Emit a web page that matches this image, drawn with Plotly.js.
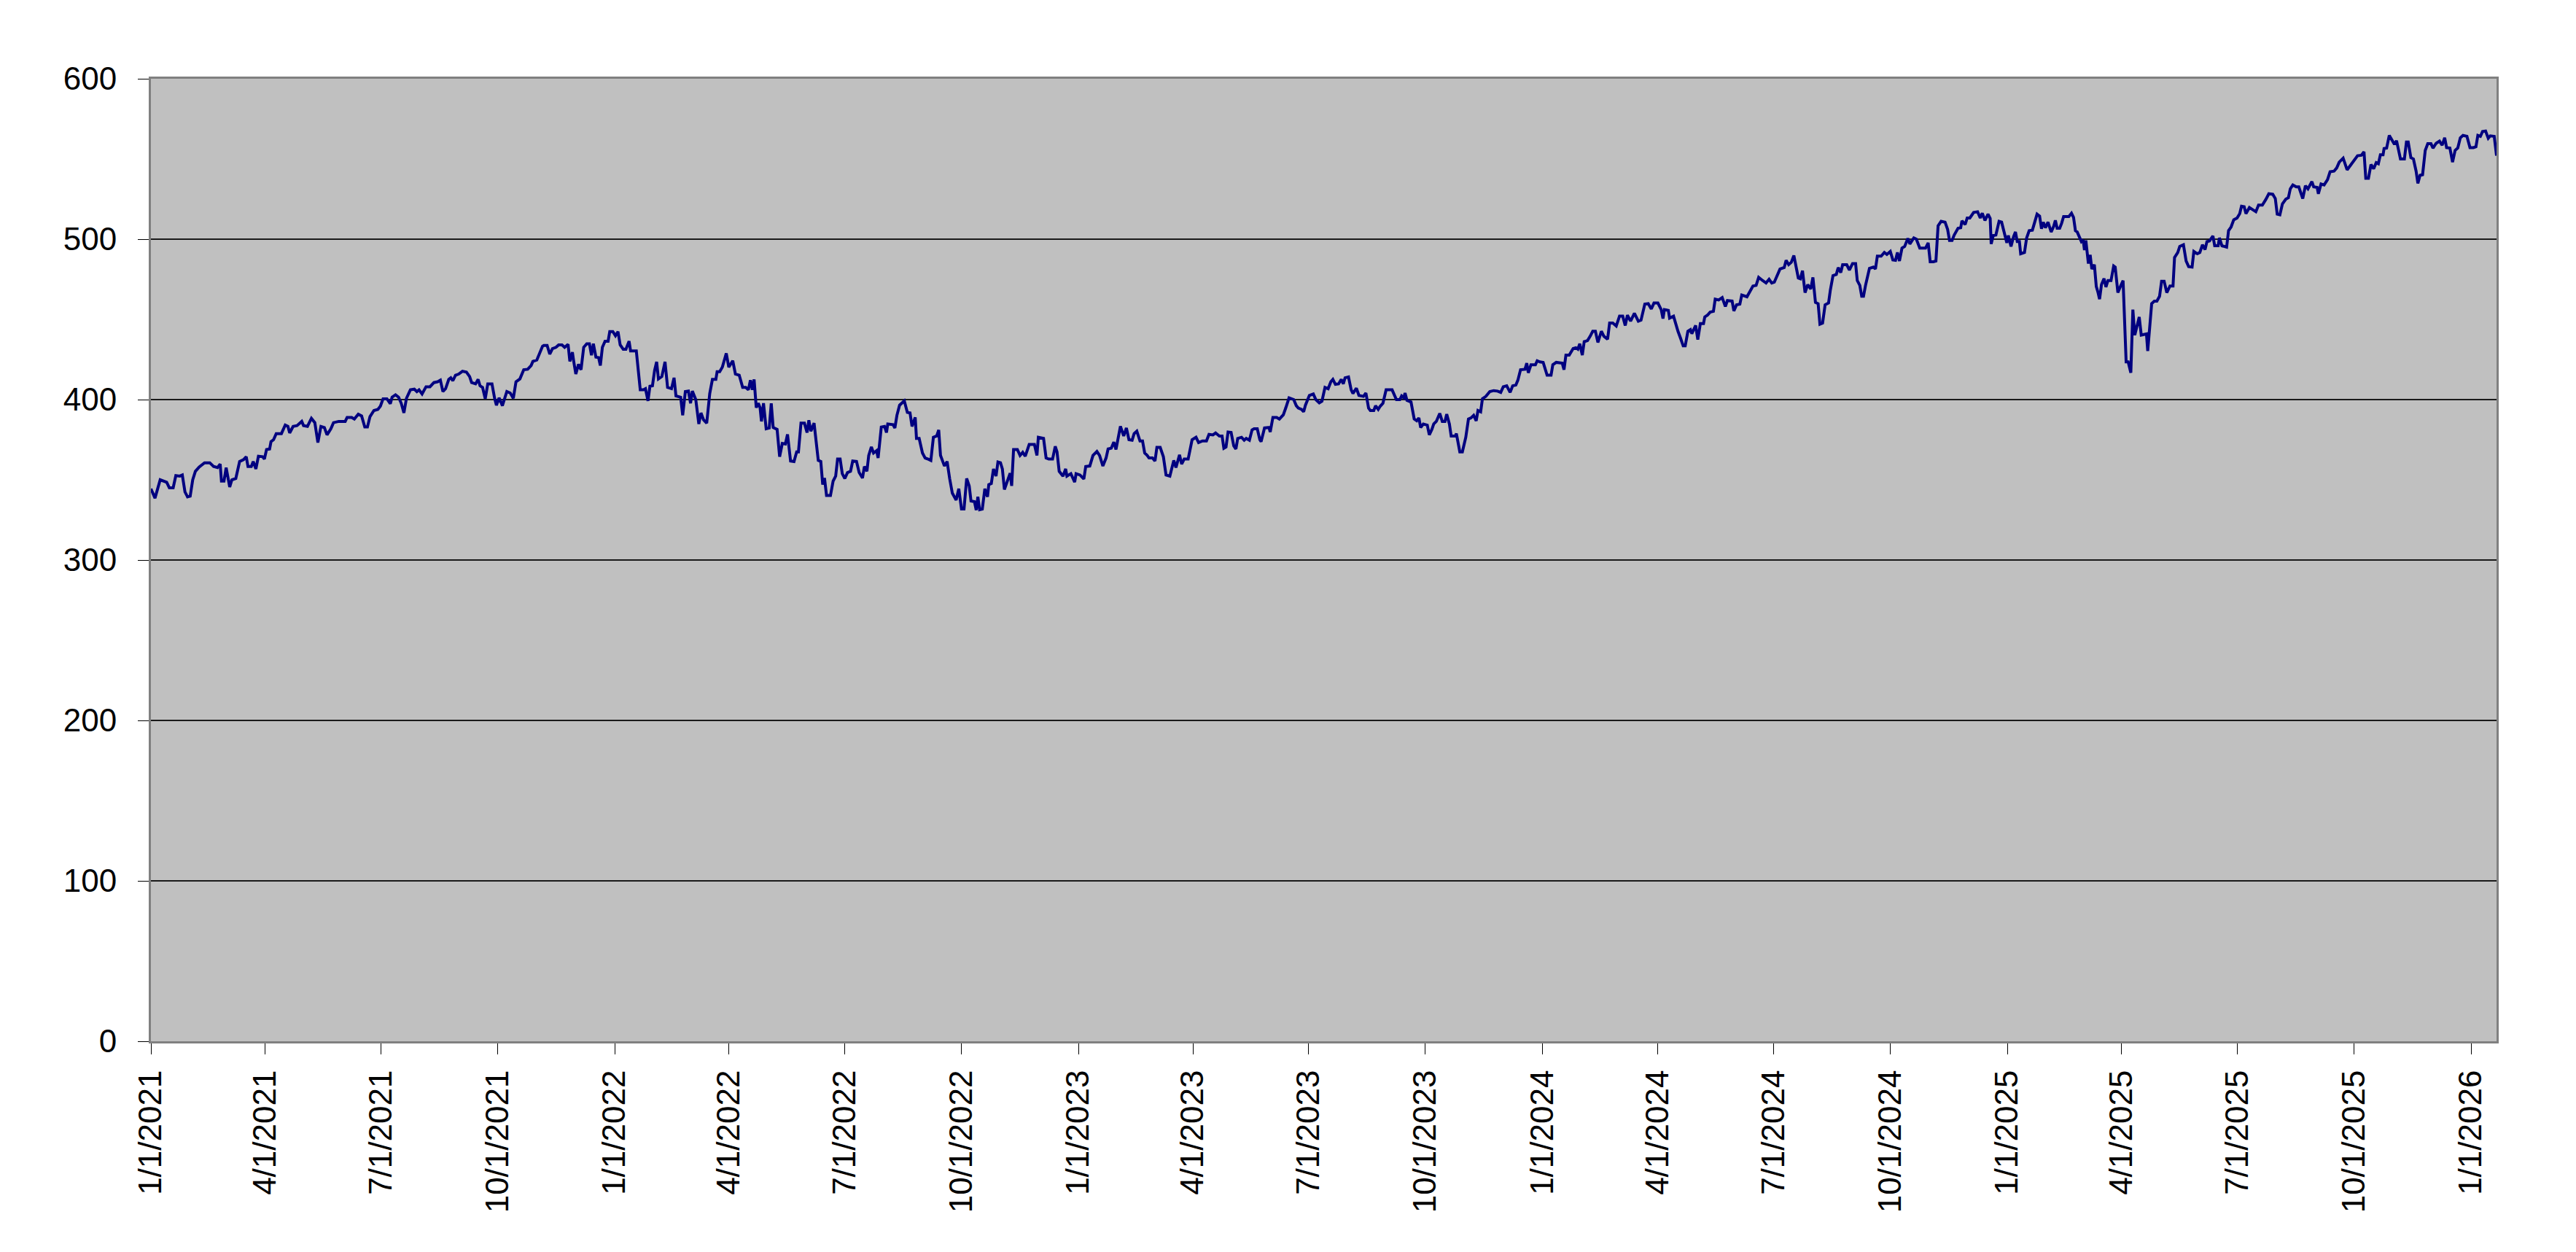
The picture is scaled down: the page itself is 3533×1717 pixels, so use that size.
<!DOCTYPE html>
<html>
<head>
<meta charset="utf-8">
<script src="https://cdn.plot.ly/plotly-3.0.1.min.js"></script>
<style>
  html, body { margin: 0; padding: 0; background: #ffffff; }
  #chart { width: 3533px; height: 1717px; }
</style>
</head>
<body>
<div id="chart"></div>
<script>
// Daily closes. Days counted from 1/1/2021.
const startDate = '2021-01-01';
const dayOffsets = [
  0, 3.2, 7.3, 10.4, 12.4, 14.5, 17.5, 19.6, 22.7, 24.7, 26.8, 28.8, 30.9, 32.9, 35, 38, 42.2, 46.3, 49.3, 52.4,
  54.5, 55.5, 57.5, 59.2, 62, 63.7, 66.8, 69.8, 72.9, 75, 76.4, 79, 80.5, 82.6, 84.6, 87.9, 89.3, 91, 93.4, 94.5,
  96.5, 98.6, 102.7, 105.7, 107.8, 109.2, 111.9, 115, 118.7, 120.1, 123.2, 126.3, 129, 131.4, 133.8, 136.5, 138.6, 141.6, 143.7, 147.8,
  152.9, 154.4, 158, 160.1, 163.2, 165.8, 168.3, 170.4, 172.4, 175.5, 178.6, 180.6, 182.7, 185.7, 188.4, 189.8, 192.5, 194.9, 197, 199.1,
  201.1, 204.2, 207.3, 209.3, 211, 213.4, 216.5, 219.6, 222.7, 225.7, 227.8, 229.8, 231.9, 234.4, 236, 237.6, 239.7, 242.2, 245.2, 248.3,
  250.8, 252.4, 255.5, 257.5, 259, 261, 263.1, 265.1, 268.4, 270.5, 271.9, 274, 276.6, 280.1, 282.8, 285.2, 287.3, 290.4, 293.4, 296.5,
  299.2, 300.6, 303.7,
  308.2, 309.2, 311.8, 313.9, 316, 318.8, 320.9, 323.5, 325.6, 328.3, 329.7, 331.7, 332.8, 334.4, 336.5, 338.5, 340.6, 343, 345.1, 346.7,
  348.2, 350.2, 352.3, 353.7, 355.3, 357.4, 359.8, 361.1, 363.5, 365.6, 367.6, 369.3, 371.7, 373.8, 376.3, 377.5, 382, 385.1, 387.7, 389.2,
  391.2, 392.7, 394.7, 396.4, 398, 399.4, 402.1, 404.6, 406.6, 409.7, 411.7, 413.2, 416.9, 418.5, 420.6, 423, 424.7, 426.1, 428.8, 431.2,
  432.9, 434.9, 437.4, 439.8, 441.9, 444.6, 445.6, 447.6, 449.7, 452.8, 454.8, 457.9, 460, 463, 465.7, 468.1, 470.2, 471.8, 473.3, 474.7,
  476.4, 478, 479.4, 480.5, 482.1, 484.2, 486.6, 488.2, 489.7, 492.8, 494.8, 496.9, 499.3, 501, 503.4, 506.1, 508.2, 509.6, 511.6, 514.3,
  516.4, 517.8, 519.4, 521.9, 525.2, 527.2, 528.7, 530.1, 531.7, 534.8, 536.9, 538.9, 540.4, 542.4, 544.1, 546.1, 548.2, 550.6, 552.3, 555.3,
  557.4, 560, 561.5, 563.5, 564.9, 567, 568.7, 571.1, 572.3, 574.8, 577.3, 578.9, 579.9, 584, 585.5, 587.1, 589.2, 592.9, 595.3, 597.4,
  599, 601.5, 602.5, 604.6, 607.2, 609.3, 611.7, 613.8, 615.8,
  618.4, 620, 621.4, 624.5, 626.6, 628.6, 630.7, 633.7, 635.8, 637.9, 639.9, 642, 644, 645.4, 648.1, 649.5, 650.8, 652.2, 654.3, 656.3,
  658.4, 659.4, 661.4, 663.1, 665.1, 666.6, 668.6, 670.1, 671.7, 673.7, 676.2, 677.4, 678.9, 681.9, 684, 686.1, 688.1, 691.2, 695.3, 697.3,
  698.4, 702.5, 704.5, 706.6, 709.6, 711.7, 713.1, 714.8, 717.8, 719.9, 720.9, 724, 727, 728.1, 731.2, 734.2, 735.7, 738.9, 741.4, 744.5,
  746.6, 749.2, 751.7, 753.3, 755.8, 757.8, 759.5, 763, 765.6, 767.7, 769.7, 772.2, 773.8, 775.9, 778.4, 780.4, 782.1, 784.1, 785.5, 788.2,
  790.2, 791.7, 794.3, 796.8, 798.9, 801.9, 803.4, 805, 806.7, 809.5, 811.2, 813.2, 816.3, 819.4, 822.5, 824.5, 827.6, 830.7, 832.7, 835.8,
  837.9, 840.9, 843, 844.4, 846.1, 847.7, 850.1, 852.2, 853.9, 855.3, 858.3, 860.4, 862, 864.5, 866.6, 868.2, 870.7, 872.7, 873.7, 876.4,
  879.9, 880.9, 883, 886, 888.1, 891.2, 893.2, 895.7, 899.4, 901.4, 903, 905.5, 907.2, 908.6, 911.7, 914.8, 916.8, 919.5, 921.6, 924,
  926.5, 928.6, 930.2, 932.2, 934.7, 936.8, 938.4, 939.8, 942.5, 944.6, 946, 948.7, 950.7, 954.2, 956.2, 958.3, 959.7, 962.4, 963.8, 965.9,
  967.5, 969.6, 972.1, 976.8, 980.2, 982.9, 984.3, 986, 987, 988.5, 991.7, 994.2, 996.2, 997.9, 999.3, 1001.4, 1004.5, 1006.1, 1008.1, 1009.6,
  1011.6, 1014.3, 1016.3, 1018.4, 1019.8, 1021.9, 1023.3, 1026.6, 1027.4, 1030.1, 1032.1, 1034.8, 1036.9, 1038.9, 1041, 1043, 1044.4, 1046.5, 1047.9, 1050.6,
  1053.7, 1056.8, 1059.8, 1062.3, 1064.3, 1067, 1069.7, 1071.7, 1074.2, 1075.8, 1077.9, 1081.4, 1082.8, 1084, 1086.1, 1089.6, 1091, 1093.1, 1095.7, 1098.8,
  1101.9, 1103.3, 1106, 1110.7, 1112.1, 1113.6, 1116.2, 1119.3, 1121.4, 1123, 1124.5, 1126.5, 1128, 1130.6, 1132.7, 1134.7, 1136.8, 1138.8, 1141.5, 1143.5,
  1146.4, 1148, 1150.5, 1153.2, 1155.8, 1158.3, 1160.3, 1162, 1164.5, 1167.5, 1170.6, 1172.7, 1175.7, 1178.4, 1180.8, 1182.9, 1186, 1188.6, 1190, 1191.1,
  1194.2, 1195.2, 1198.3, 1199.7, 1201.8, 1203.8, 1205.9, 1207.5, 1209.6, 1211.6, 1212.7, 1215.7, 1217.4, 1219.4, 1221.9, 1222.9, 1225, 1227.1, 1229.7, 1231.1,
  1233.8,
  1236.6, 1239.1, 1240.7, 1244.4, 1245.8, 1247.9, 1250.5, 1252, 1256.1, 1258.8, 1260.8, 1263.3, 1265.3, 1268.4, 1271.1, 1273.5, 1275.6, 1277.6, 1279.7, 1282.1,
  1285.4, 1286.9, 1288.9, 1291, 1293, 1294.5, 1296.5, 1298.1, 1299.8, 1301.8, 1303.9, 1306.3, 1308, 1310, 1312.1, 1313.5, 1315.6, 1317.6, 1320.3, 1321.7,
  1323.8, 1326.4, 1327.9, 1329.9, 1331.4, 1334.6, 1336.7, 1339.2, 1341.6, 1342.9, 1344.9, 1346.4, 1347.8, 1349.4, 1352.5, 1355.6, 1357.2, 1358.7, 1361.7, 1364.2,
  1366.2, 1368.9, 1370.9, 1373, 1374.5, 1376.1, 1378.1, 1380.2, 1382.7, 1384.3, 1387.4, 1389.4, 1392.1, 1394.6, 1396.6, 1398.7, 1400.3, 1402.8, 1404.8, 1406.5,
  1408.9, 1412, 1414, 1415.5, 1417.5, 1419.2, 1422.2, 1424.3, 1425.3, 1427.8, 1429.4, 1431.5, 1434.5, 1437.6, 1439.7, 1441.3, 1443.4, 1445.8, 1447.5, 1448.3,
  1449.9, 1452, 1454.5, 1456.5, 1458.6, 1460.6, 1461.8, 1463.9, 1465.9, 1467.4, 1468.8, 1470.5, 1471.5, 1474.5, 1476.2, 1478.2, 1480.7, 1482.8, 1484.4, 1486.4,
  1487.9, 1489.3, 1491, 1493, 1495.5, 1497.5, 1498.8, 1500.2, 1502.2, 1503.7, 1505.3, 1509.4, 1511.5, 1513.1, 1514.6, 1516, 1518.1, 1519.3, 1520.7, 1521.7,
  1522.8, 1524.8, 1526.2, 1527.5, 1529.5, 1531, 1532.4, 1533.6, 1535.1, 1537.1, 1538.6, 1540.2, 1542.6, 1544.7,
  1545.9, 1548, 1550, 1552.1, 1554.5, 1556.1, 1558.2, 1559.8, 1561.3, 1563.3, 1564.8, 1566.4, 1568.9, 1570.5, 1571.5, 1573, 1574.6, 1576.7, 1578.7, 1580.8,
  1582.4, 1584.4, 1586.5, 1589, 1591.4, 1592.6, 1595.1, 1596.7, 1599.6, 1601.7, 1603.7, 1606.4, 1607.8, 1610.5, 1612.5, 1614.6, 1616.6, 1618.1, 1620.1, 1622.8,
  1624.2, 1626.9, 1627.9, 1629.9, 1633.6, 1635.1, 1637.1, 1639.2, 1641.8, 1643.9, 1645.3, 1647.4, 1648.8, 1651.5, 1654.1, 1656.6, 1658.7, 1661.7, 1664.4, 1666.8,
  1669.9, 1671.9, 1673.4, 1675.5, 1677.5, 1680.2, 1682.2, 1683.7, 1685.7, 1688.4, 1690.4, 1693.5, 1695.6, 1697.6, 1700.7, 1702.1, 1704.8, 1705.8, 1707.9, 1710.3,
  1713, 1715, 1718.1, 1720.2, 1722.2, 1725.3, 1728.4, 1731.4, 1734.1, 1736.6, 1739.6, 1741.7, 1743.1, 1745.2, 1747.2, 1749.3, 1751.3, 1753, 1754.6, 1756.7,
  1757.5, 1759.5, 1761.6, 1763.6, 1765.7, 1767.3, 1768.9, 1770.4, 1773.5, 1775.1, 1776.5, 1778.6, 1780.6, 1782.7, 1784.1, 1785.8, 1787.8, 1789.9, 1791.9, 1794.4,
  1796, 1798.5, 1801.1, 1803.2, 1805.2, 1806.7, 1809.3, 1811.4, 1813.4, 1815.5, 1817.5, 1819.6, 1822.7, 1825.1, 1827.8, 1829.8, 1831.3, 1833.3, 1835, 1837.4,
  1839.5, 1841.1, 1844.2, 1846
];
const closeValues = [
  344.4, 338.6, 350, 349.2, 348.5, 345, 345, 352.6, 352.3, 353, 342.4, 339.4, 339.8, 350, 355.3, 358, 360.6, 360.6, 358.3, 357.6,
  359.8, 349.2, 349.2, 357.6, 345.5, 350, 350.8, 361.4, 362.6, 364.4, 358.3, 358.3, 361.4, 356.8, 364.7, 364.4, 362.9, 368.9, 369.2, 373.8,
  375, 378.8, 378.8, 384.1, 383.3, 379.2, 383.3, 383.8, 386.4, 383.8, 383.3, 388.3, 385.6, 373.2, 383.3, 382.6, 378, 381.8, 385.6, 386.4,
  386.4, 388.9, 388.9, 387.9, 390.9, 389.8, 382.9, 382.9, 389.4, 393.2, 393.9, 395.9, 400.5, 400.5, 397.4, 401.5, 403, 401.5, 397.7, 391.7,
  400.8, 406.1, 406.5, 405, 406.1, 403.5, 408, 408, 410.6, 411.1, 412.1, 405, 406.8, 412.6, 413.6, 411.7, 415.2, 415.9, 417.7, 417.1,
  414.4, 410.6, 409.8, 412.6, 408.6, 407.6, 400.5, 409.8, 409.8, 400.8, 396.5, 401.1, 396.2, 405, 404.1, 400.8, 411.1, 412.9, 418.6, 418.9,
  421.2, 423.8, 424.7,
  433.3, 433.8, 433.8, 428.3, 431.8, 432.6, 434.1, 434.1, 432.6, 434.4, 423.8, 429.5, 423.5, 415.9, 422, 418.6, 432.6, 434.8, 434.8, 427.7,
  434.8, 426.5, 426.2, 421.2, 432.6, 436.4, 436.4, 442.4, 442.4, 439.8, 442.4, 434.1, 431.4, 431.4, 436.4, 430.3, 430.3, 406.1, 406.1, 406.8,
  399.2, 408.3, 408.6, 418.2, 423.5, 412.9, 414.4, 423.5, 407.6, 406.8, 413.6, 402.3, 401.5, 390.2, 405, 405.3, 397.7, 405.3, 400, 384.8,
  391.7, 387.4, 385.3, 403.8, 412.6, 412.6, 417.4, 417.4, 420.2, 428.8, 420.2, 424.2, 415.9, 415.2, 407.6, 407.6, 406.1, 412.1, 406.1, 412.6,
  395, 397.7, 395, 386.4, 397.7, 381.8, 382.3, 397.7, 382.6, 381.4, 364.4, 372.7, 372.3, 378.3, 361.7, 361.4, 367.4, 367.4, 385.3, 385.3,
  379.5, 387.1, 380.3, 385.3, 362.1, 361.4, 347, 351.1, 340.2, 340.2, 349.2, 352.3, 362.9, 362.9, 353.8, 350.8, 354.5, 355.3, 361.7, 361.4,
  354.5, 351.1, 358.3, 355.3, 365.2, 370.5, 366.7, 368.2, 363.6, 382.9, 383.3, 379.5, 384.8, 384.4, 382.3, 390.2, 396.5, 399.2, 392, 391.7,
  383.3, 388.9, 375.8, 375.8, 366.7, 363.6, 362.9, 362.1, 376.5,
  377.3, 381.1, 365.2, 358.6, 361.4, 350.8, 341.7, 337.4, 344.4, 331.8, 331.8, 350.8, 346.2, 336.8, 336.4, 331.1, 339.4, 331.4, 331.8, 344.4,
  339.4, 347, 347.7, 356.8, 352.3, 361.1, 360.6, 356.8, 343.9, 348.5, 354.1, 346.2, 368.9, 368.9, 365.2, 367.1, 364.7, 372, 372, 365.2,
  376.5, 375.8, 363.6, 362.9, 362.9, 370.8, 367.4, 355.3, 352.3, 356.8, 352.3, 353.8, 348.5, 353.8, 353, 350.5, 358.3, 358.6, 365.2, 367.7,
  365.2, 358.6, 363.6, 369.2, 369.7, 373.5, 368.9, 383.3, 377.3, 382.3, 375, 374.7, 378.8, 380.3, 374.2, 374.2, 366.7, 365.2, 363.6, 363.6,
  361.7, 370.2, 370.2, 364.4, 353, 352.3, 356.8, 362.1, 357.6, 365.6, 359.8, 362.9, 362.9, 375, 376.5, 373.2, 374.2, 374.2, 378.3, 378,
  379.2, 377.3, 377.3, 369.7, 370.5, 379.8, 379.5, 371.2, 369.2, 375.8, 376.5, 374.7, 375.8, 374.7, 381.1, 381.8, 381.8, 375, 373.8, 382.3,
  382.6, 379.8, 388.9, 388.9, 387.9, 390.5, 395, 401.1, 400, 396.2, 394.7, 393.9, 392.4, 396.5, 402.6, 403.5, 400, 398, 399, 407.6,
  406.8, 411.1, 412.6, 409.5, 409.8, 412.6, 409.8, 413.6, 414.1, 406.1, 403.8, 407.1, 402.6, 402, 404.1, 394.7, 393.2, 393.2, 396.2, 393.9,
  395.9, 397.7, 406.1, 406.1, 400, 400, 402.3, 401.1, 404.1, 399.5, 398.5, 387.9, 386.8, 388.6, 382.6, 384.8, 384.1, 378, 381.4, 384.8,
  386.4, 391.4, 386.4, 386.4, 390.9, 384.8, 377.3, 377.3, 378.8, 367.4, 367.4, 376.5, 387.9, 388.6, 390.2, 386.8, 393.2, 392.4, 400.5, 402,
  405, 405.6, 405.3, 404.5, 408, 408.6, 404.5, 408.6, 409.1, 412.1, 418.6, 418.9, 422.7, 416.7, 421.7, 421.7, 424.2, 423.5, 423.2, 415.2,
  415.2, 421.7, 423.2, 422.7, 418.6, 427.7, 427.7, 431.8, 432.3, 431.4, 434.8, 427.7, 436.1, 436.8, 439.5, 442.6, 442.6, 435.6, 442.6, 439.5,
  437.6, 447.7, 447.7, 445.9, 452, 452, 446.2, 452.6, 448.9, 453.8, 448.9, 449.5, 459.5, 459.8, 456.5, 460.2, 460.2, 456.1, 450.5, 456.1,
  455.6, 450.8, 452, 448, 442.6, 438.3, 433.5, 433.5, 442.6, 443.6, 441.1, 446.2, 437.4, 447.4, 447.4, 451.5, 452.6, 454.5, 455, 462.6,
  462.1,
  463.6, 458, 461.7, 461.4, 455.3, 459.1, 459.5, 465.2, 464.1, 467.7, 470.8, 471.2, 476.2, 474.2, 472.7, 475, 472.7, 473.2, 477.3, 481.4,
  482.3, 486.8, 484.1, 485.6, 489.8, 483.3, 475.8, 475.3, 480.3, 466.7, 471.7, 468.9, 476.2, 460.6, 459.8, 447, 447.7, 459.1, 460.2, 468.2,
  477.3, 478, 482.3, 479.2, 484.1, 484.1, 480.8, 484.8, 484.8, 474.2, 471.2, 464.4, 464.4, 471.2, 481.8, 482.6, 481.4, 489.4, 489.4, 491.7,
  490.5, 492.4, 487.1, 486.8, 491.7, 486.4, 494.4, 495.5, 500.5, 497, 500.8, 500, 494.4, 494.4, 494.4, 497.7, 485.9, 485.9, 486.4, 508.3,
  511.1, 510.6, 506.1, 499.2, 499.2, 502.6, 506.8, 507.1, 511.4, 509.1, 513.2, 513.2, 516.7, 517.1, 513.2, 516.2, 511.7, 515.6, 512.9, 497,
  502.3, 502.6, 511.1, 510.6, 503.8, 497.7, 502.3, 495.5, 501.5, 504.5, 498.5, 498.5, 490.9, 491.7, 500.8, 505.3, 505.6, 512.1, 515.6, 514.4,
  506.5, 510.6, 507.1, 510.6, 504.5, 508, 511.7, 506.8, 506.8, 509.8, 514.1, 514.1, 516.2, 513.6, 505.3, 504.5, 500, 498.5, 499.5, 493.2,
  499.2, 484.8, 490.2, 481.4, 484.1, 470.5, 466.7, 462.6, 471.7, 475.5, 470.2, 474.2, 474.2, 483.3,
  482.6, 466.7, 470.5, 474.2, 423.5, 423.5, 416.7, 456.1, 440.2, 446.2, 451.5, 440.2, 440.9, 440.9, 430.3, 446.2, 459.8, 461.4, 461.4, 464.4,
  473.8, 473.8, 466.7, 470.8, 470.8, 488.6, 491.7, 495.5, 496.5, 486.4, 482.9, 482.6, 492.4, 490.9, 491.7, 496.5, 493.5, 498.5, 498.9, 502,
  495.9, 495.9, 500.8, 495.9, 495, 505.3, 507.6, 512.1, 513.2, 515.9, 520.5, 520.2, 515.9, 519.7, 518.6, 517.1, 521.2, 521.2, 524.7, 528.3,
  528, 525.3, 515.6, 515.2, 522, 525, 525.8, 531.4, 533.8, 532.6, 532.6, 525.3, 533.3, 531.4, 535.9, 532.6, 532.3, 528.3, 534.4, 533.8,
  537.1, 542, 542.4, 544.4, 548, 550.5, 543.2, 546.5, 550, 552, 552.3, 554.5, 537.9, 537.9, 546.5, 543.9, 547.7, 547, 552.6, 552.6,
  556.5, 556.8, 564.7, 562.1, 559.1, 561.4, 554.5, 550, 550, 560.6, 560.6, 550.8, 550, 542.4, 534.8, 539.8, 540.2, 555.3, 559.5, 559.5,
  556.8, 559.8, 561.1, 558.6, 563.2, 557.1, 556.8, 548, 555.3, 556.8, 563.2, 564.7, 564.1, 557.1, 557.1, 557.6, 564.7, 564.1, 567.1, 567.4,
  562.9, 564.4, 564.1, 552
];

// quarterly axis labels as printed
const tickLabels = [
  '1/1/2021', '4/1/2021', '7/1/2021', '10/1/2021',
  '1/1/2022', '4/1/2022', '7/1/2022', '10/1/2022',
  '1/1/2023', '4/1/2023', '7/1/2023', '10/1/2023',
  '1/1/2024', '4/1/2024', '7/1/2024', '10/1/2024',
  '1/1/2025', '4/1/2025', '7/1/2025', '10/1/2025',
  '1/1/2026'
];

const DAY = 86400000;
const base = Date.parse(startDate + 'T00:00:00Z');
function toDate(ms) {
  return new Date(ms).toISOString().slice(0, 19).replace('T', ' ');
}
const xDates = dayOffsets.map(d => toDate(base + d * DAY));
const tickVals = tickLabels.map(s => {
  const p = s.split('/');
  return toDate(Date.UTC(+p[2], +p[0] - 1, +p[1]));
});

const font = { family: '"Liberation Sans", Arial, sans-serif', size: 44, color: '#000000' };

const trace = {
  x: xDates,
  y: closeValues,
  type: 'scatter',
  mode: 'lines',
  line: { color: '#000080', width: 4 },
  hoverinfo: 'skip'
};

const layout = {
  width: 3533,
  height: 1717,
  margin: { l: 207, r: 109, t: 108, b: 289, pad: 0 },
  paper_bgcolor: '#ffffff',
  plot_bgcolor: '#c0c0c0',
  showlegend: false,
  font: font,
  xaxis: {
    type: 'date',
    range: [xDates[0], xDates[xDates.length - 1]],
    tickmode: 'array',
    tickvals: tickVals,
    ticktext: tickLabels,
    tickangle: -90,
    tickfont: font,
    ticks: 'outside',
    ticklen: 15,
    tickwidth: 1,
    tickcolor: '#000000',
    ticklabelstandoff: 4,
    showgrid: false,
    zeroline: false,
    showline: true,
    linecolor: '#808080',
    linewidth: 3,
    mirror: true
  },
  yaxis: {
    range: [0, 600],
    tickmode: 'linear',
    tick0: 0,
    dtick: 100,
    tickfont: font,
    ticks: 'outside',
    ticklen: 15,
    tickwidth: 1,
    tickcolor: '#000000',
    ticklabelstandoff: 20,
    showgrid: true,
    gridcolor: '#1a1a1a',
    gridwidth: 1.5,
    zeroline: false,
    showline: true,
    linecolor: '#808080',
    linewidth: 3,
    mirror: true
  }
};

Plotly.newPlot('chart', [trace], layout, { staticPlot: true, displayModeBar: false });
</script>
</body>
</html>
